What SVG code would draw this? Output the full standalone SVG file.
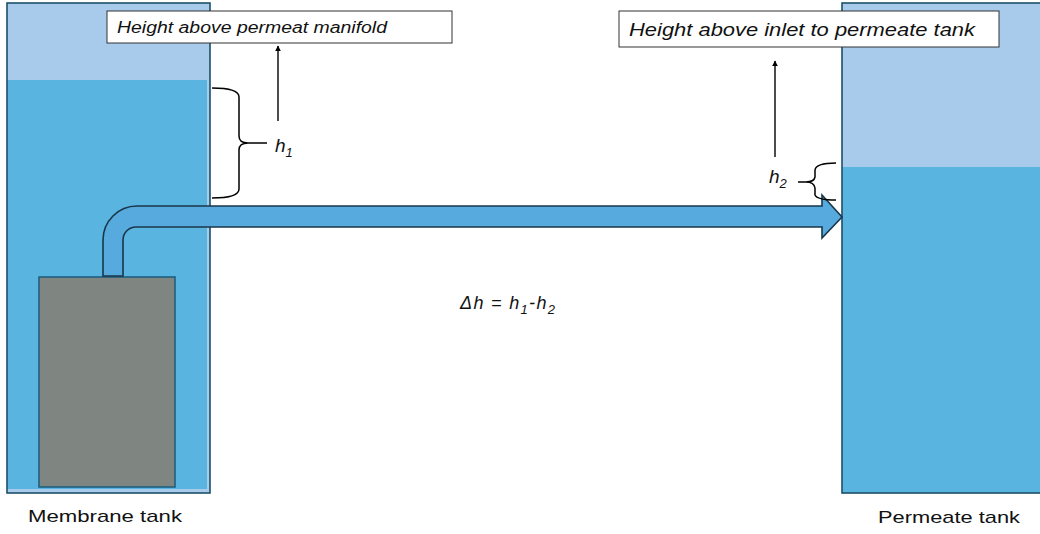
<svg xmlns="http://www.w3.org/2000/svg" width="1040" height="534" viewBox="0 0 1040 534">
<defs>
<style>
.light{fill:#a8caeb;}
.water{fill:#5ab4e0;}
.tankline{fill:none;stroke:#1d4f6a;stroke-width:1.6;}
.pipe{fill:#56aadd;stroke:#1a3648;stroke-width:1.6;}
.module{fill:#7f8681;stroke:#1f5f80;stroke-width:1.6;}
.box{fill:#ffffff;stroke:#333333;stroke-width:1;}
.it{font-family:"Liberation Sans",Arial,sans-serif;font-style:italic;fill:#111;}
.lbl{font-family:"Liberation Sans",Arial,sans-serif;fill:#111;}
.ln{fill:none;stroke:#000;stroke-width:1.4;}
.brace{fill:none;stroke:#000;stroke-width:1.5;}
</style>
<marker id="ah" viewBox="0 0 10 10" refX="9" refY="5" markerWidth="6" markerHeight="6" orient="auto" markerUnits="userSpaceOnUse">
<path d="M0,0 L10,5 L0,10 z" fill="#000"/>
</marker>
</defs>

<g id="membrane-tank">
<rect x="7" y="3" width="203" height="490" class="light"/>
<rect x="7" y="80" width="200" height="409" class="water"/>
<rect x="7" y="3" width="203" height="490" class="tankline"/>
</g>

<g id="permeate-tank">
<rect x="842" y="3" width="210" height="490" class="light"/>
<rect x="842" y="167" width="210" height="326" class="water"/>
<rect x="842" y="3" width="210" height="490" class="tankline"/>
</g>

<g id="membrane-module">
<rect x="39" y="277" width="136" height="210" class="module"/>
</g>

<g id="connectors">
<path id="pipe" class="pipe" d="M103,276 V240 A34,34 0 0 1 137,206 H822 V195 L842,217 L822,238 V227 H136 A13,13 0 0 0 123,240 V276 Z"/>
<line class="ln" x1="278" y1="121" x2="278" y2="46" marker-end="url(#ah)"/>
<line class="ln" x1="775" y1="157" x2="775" y2="61" marker-end="url(#ah)"/>
<path class="brace" d="M212,88 Q239,88 239,97 V136 Q239,143 248,143 H267 M248,143 Q239,143 239,150 V189 Q239,198 212,198"/>
<path class="brace" d="M836,163 Q816,163 815,170 V177 Q814,182 806,182 H798 M806,182 Q814,182 815,188 V195 Q817,200 836,200"/>
</g>

<g id="label-manifold">
<rect x="107" y="11" width="345" height="32" class="box"/>
<text x="117" y="33" class="it" font-size="16" textLength="270" lengthAdjust="spacingAndGlyphs">Height above permeat manifold</text>
</g>

<g id="label-inlet">
<rect x="619" y="11" width="380" height="36" class="box"/>
<text x="629" y="36" class="it" font-size="18" textLength="346" lengthAdjust="spacingAndGlyphs">Height above inlet to permeate tank</text>
</g>

<g id="h1">
<text x="275" y="152" class="it" font-size="19">h<tspan font-size="13" dy="5">1</tspan></text>
</g>

<g id="h2">
<text x="769" y="183" class="it" font-size="19">h<tspan font-size="13" dy="5">2</tspan></text>
</g>

<g id="delta-h">
<text x="460" y="309" class="it" font-size="18" textLength="95">Δh = h<tspan font-size="13" dy="5">1</tspan><tspan dy="-5">-h</tspan><tspan font-size="13" dy="5">2</tspan></text>
</g>

<text x="28" y="522" class="lbl" font-size="17" textLength="154" lengthAdjust="spacingAndGlyphs">Membrane tank</text>
<text x="878" y="523" class="lbl" font-size="17" textLength="142" lengthAdjust="spacingAndGlyphs">Permeate tank</text>
</svg>
